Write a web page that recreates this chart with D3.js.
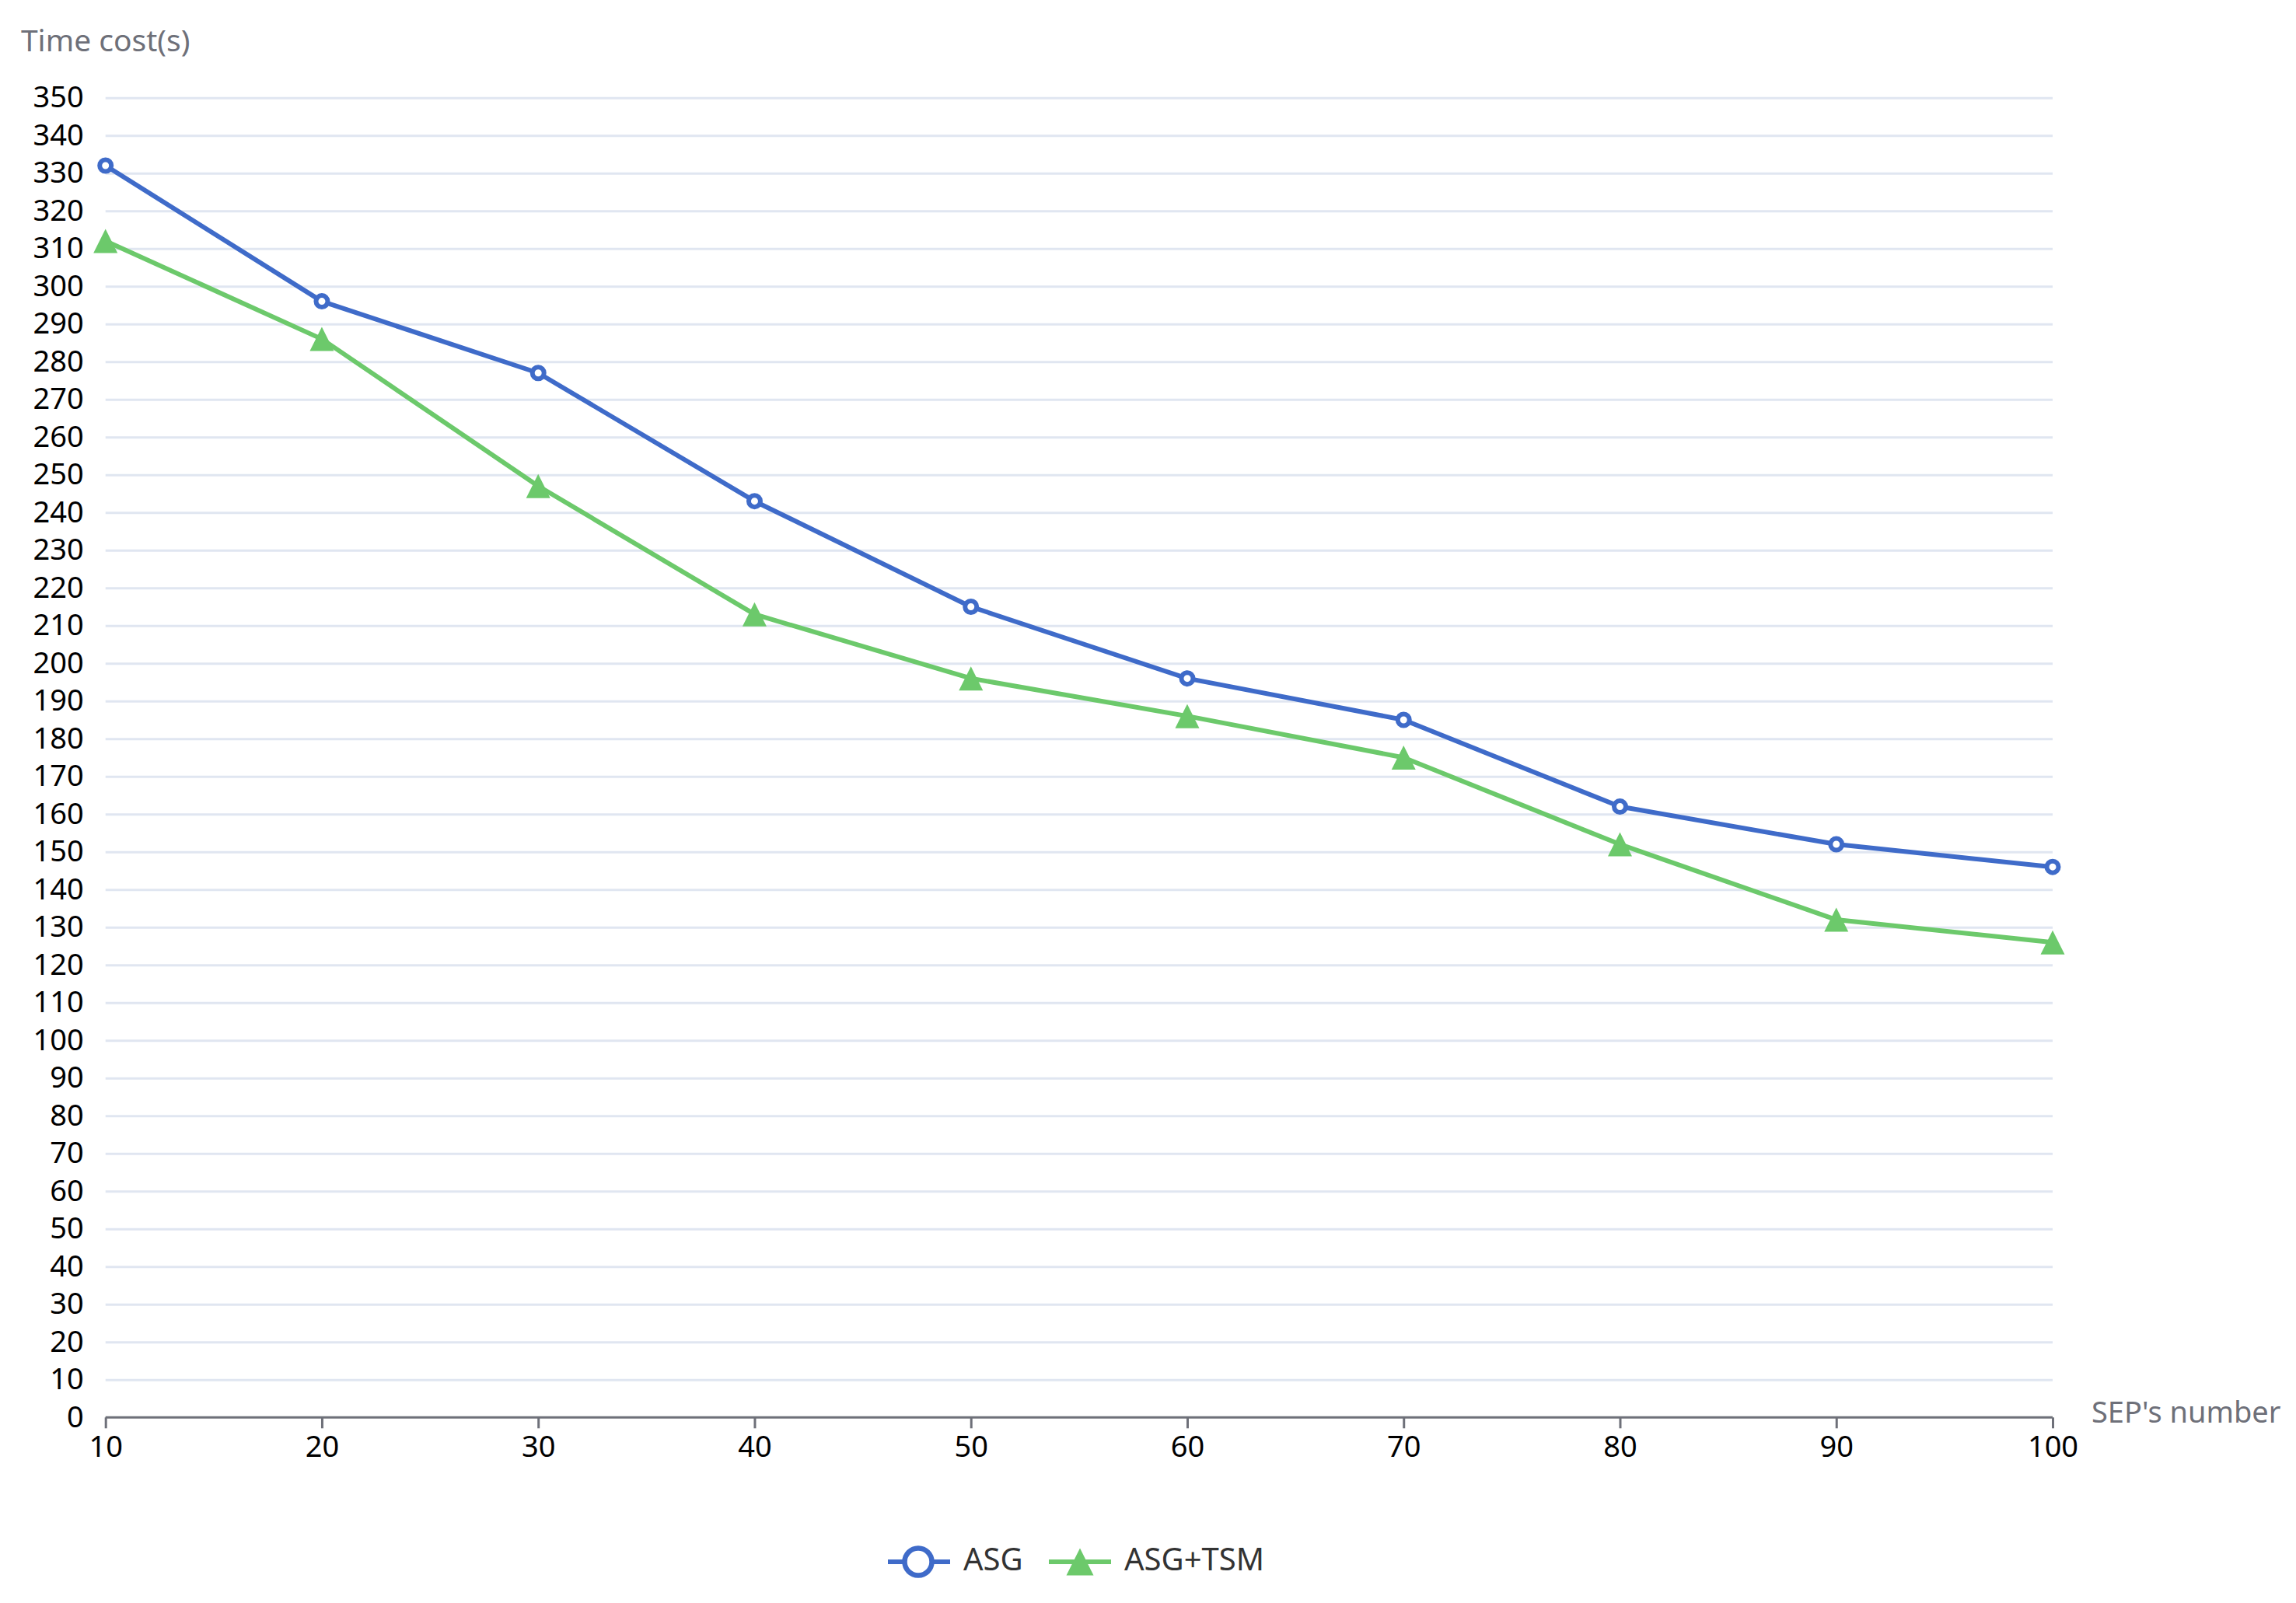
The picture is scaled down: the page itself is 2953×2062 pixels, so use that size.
<!DOCTYPE html>
<html>
<head>
<meta charset="utf-8">
<script src="https://cdn.jsdelivr.net/npm/d3@7"></script>
<style>
  html, body { margin: 0; padding: 0; background: #fff; }
  svg { display: block; font-family: "Noto Sans", "Open Sans", sans-serif; }
</style>
</head>
<body>
<svg id="chart" width="2953" height="2062"></svg>
<script>
// ---- data ----
const sepNumbers = [10, 20, 30, 40, 50, 60, 70, 80, 90, 100];
const asgValues = [332, 296, 277, 243, 215, 196, 185, 162, 152, 146];
const asgTsmValues = [312, 286, 247, 213, 196, 186, 175, 152, 132, 126];
const yTicks = d3.range(0, 351, 10);
const seriesNames = ["ASG", "ASG+TSM"];
const yAxisName = "Time cost(s)";
const xAxisName = "SEP's number";

// ---- layout ----
const plotLeft = 135.7, plotRight = 2640, plotTop = 125.7, plotBottom = 1823.3;
const blue = "#3f6bc9", green = "#6cc96b";
const axisGray = "#6E7079", gridColor = "#E0E6F1";

const svg = d3.select("#chart");

const x = d3.scaleLinear().domain([10, 100]).range([plotLeft, plotRight]);
const y = d3.scaleLinear().domain([0, 350]).range([plotBottom, plotTop]);

// grid lines + y labels
const gy = svg.append("g").attr("transform", `translate(${plotLeft},0)`)
  .call(d3.axisLeft(y).tickValues(yTicks).tickSize(-(plotRight - plotLeft)).tickPadding(28).tickFormat(d3.format("d")));
gy.select(".domain").remove();
gy.selectAll(".tick line").attr("stroke", gridColor).attr("stroke-width", 3)
  .filter(d => d === 0).remove();
gy.selectAll(".tick text").attr("fill", "#000").attr("font-size", 38)
  .attr("font-family", "Noto Sans, sans-serif");

// x axis
const gx = svg.append("g").attr("transform", `translate(0,${plotBottom})`)
  .call(d3.axisBottom(x).tickValues(sepNumbers).tickSize(14).tickPadding(10).tickFormat(d3.format("d")));
gx.select(".domain").attr("stroke", axisGray).attr("stroke-width", 3)
  .attr("d", `M${plotLeft},0H${plotRight}`);
gx.selectAll(".tick line").attr("stroke", axisGray).attr("stroke-width", 3);
gx.selectAll(".tick text").attr("fill", "#000").attr("font-size", 38)
  .attr("font-family", "Noto Sans, sans-serif");

// axis names
svg.append("text").attr("x", plotLeft).attr("y", 66).attr("text-anchor", "middle")
  .attr("fill", axisGray).attr("font-size", 39).text(yAxisName);
svg.append("text").attr("x", 2690).attr("y", 1830).attr("text-anchor", "start")
  .attr("fill", axisGray).attr("font-size", 38).text(xAxisName);

// lines
const line = d3.line().x((d, i) => x(sepNumbers[i])).y(d => y(d));
svg.append("path").datum(asgValues).attr("d", line)
  .attr("fill", "none").attr("stroke", blue).attr("stroke-width", 6).attr("stroke-linejoin", "round");
svg.append("path").datum(asgTsmValues).attr("d", line)
  .attr("fill", "none").attr("stroke", green).attr("stroke-width", 6).attr("stroke-linejoin", "round");

// markers
const triPath = s => `M0,${-s / 2}L${s / 2},${s / 2}L${-s / 2},${s / 2}Z`;
svg.append("g").selectAll("path").data(asgTsmValues).join("path")
  .attr("transform", (d, i) => `translate(${x(sepNumbers[i])},${y(d)})`)
  .attr("d", triPath(31)).attr("fill", green);
svg.append("g").selectAll("circle").data(asgValues).join("circle")
  .attr("cx", (d, i) => x(sepNumbers[i])).attr("cy", d => y(d)).attr("r", 7.5)
  .attr("fill", "#fff").attr("stroke", blue).attr("stroke-width", 6);

// legend
const ly = 2009;
const lg = svg.append("g");
lg.append("line").attr("x1", 1142).attr("x2", 1222).attr("y1", ly).attr("y2", ly)
  .attr("stroke", blue).attr("stroke-width", 6);
lg.append("circle").attr("cx", 1181).attr("cy", ly).attr("r", 17.5)
  .attr("fill", "#fff").attr("stroke", blue).attr("stroke-width", 6.5);
lg.append("text").attr("x", 1239).attr("y", 2020)
  .attr("fill", "#333").attr("font-size", 40).text(seriesNames[0]);
lg.append("line").attr("x1", 1349).attr("x2", 1429).attr("y1", ly).attr("y2", ly)
  .attr("stroke", green).attr("stroke-width", 6);
lg.append("path").attr("transform", `translate(1389,${ly})`).attr("d", triPath(35)).attr("fill", green);
lg.append("text").attr("x", 1446).attr("y", 2020)
  .attr("fill", "#333").attr("font-size", 40).text(seriesNames[1]);
</script>
</body>
</html>
